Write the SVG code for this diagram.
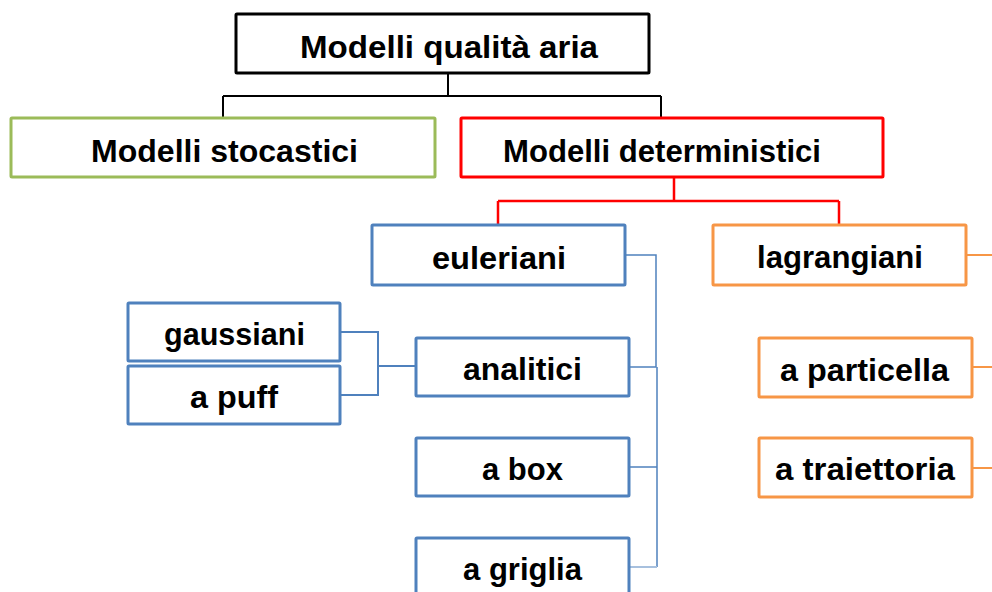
<svg xmlns="http://www.w3.org/2000/svg" width="992" height="592" viewBox="0 0 992 592">
<style>
.box{fill:#fff;stroke-width:3;}
.k{stroke:#000;}
.g{stroke:#9BBB59;}
.r{stroke:#FF0000;}
.b{stroke:#4F81BD;}
.o{stroke:#F79646;}
text{font-family:"Liberation Sans",Arial,sans-serif;font-weight:bold;font-size:32px;fill:#000;text-anchor:middle;}
.c{fill:none;}
</style>
<rect width="992" height="592" fill="#fff"/>
<g id="connectors" class="c">
<path d="M448 73V96M223 96H661M223 96V118M661 96V118" stroke="#000" stroke-width="2"/>
<path d="M674 177V201M498 201H839M498 201V225M839 201V225" stroke="#FF0000" stroke-width="2.5"/>
<path d="M625 255H656V367H629" stroke="#4F81BD" stroke-width="1.5"/>
<path d="M657 367V567M629 467H657" stroke="#4F81BD" stroke-width="1.5"/>
<path d="M629 567H657" stroke="#A7C0DE" stroke-width="2"/>
<path d="M340 332H378V395H340M378 366H416" stroke="#4F81BD" stroke-width="2"/>
<path d="M966 255H992M972 367H992M972 468H992" stroke="#F79646" stroke-width="2"/>
</g>
<g id="n-root"><rect class="box k" x="236" y="14" width="413" height="59" rx="1"/><text x="449" y="58" textLength="298" lengthAdjust="spacingAndGlyphs">Modelli qualità aria</text></g>
<g id="n-stocastici"><rect class="box g" x="11" y="118" width="424" height="59" rx="1"/><text x="224.5" y="162" textLength="267" lengthAdjust="spacingAndGlyphs">Modelli stocastici</text></g>
<g id="n-deterministici"><rect class="box r" x="461" y="118" width="422" height="59" rx="1"/><text x="662" y="162" textLength="318" lengthAdjust="spacingAndGlyphs">Modelli deterministici</text></g>
<g id="n-euleriani"><rect class="box b" x="372" y="225" width="253" height="60" rx="1"/><text x="499" y="269" textLength="134" lengthAdjust="spacingAndGlyphs">euleriani</text></g>
<g id="n-lagrangiani"><rect class="box o" x="713" y="225" width="253" height="60" rx="1"/><text x="840" y="268" textLength="166" lengthAdjust="spacingAndGlyphs">lagrangiani</text></g>
<g id="n-gaussiani"><rect class="box b" x="128" y="303" width="212" height="58" rx="1"/><text x="234.5" y="345" textLength="141" lengthAdjust="spacingAndGlyphs">gaussiani</text></g>
<g id="n-puff"><rect class="box b" x="128" y="366" width="212" height="58" rx="1"/><text x="234" y="408" textLength="88" lengthAdjust="spacingAndGlyphs">a puff</text></g>
<g id="n-analitici"><rect class="box b" x="416" y="338" width="213" height="58" rx="1"/><text x="522.5" y="380" textLength="119" lengthAdjust="spacingAndGlyphs">analitici</text></g>
<g id="n-box"><rect class="box b" x="416" y="438" width="213" height="58" rx="1"/><text x="522.5" y="480" textLength="81" lengthAdjust="spacingAndGlyphs">a box</text></g>
<g id="n-griglia"><rect class="box b" x="416" y="538" width="213" height="70" rx="1"/><text x="522.5" y="580" textLength="119" lengthAdjust="spacingAndGlyphs">a griglia</text></g>
<g id="n-particella"><rect class="box o" x="759" y="338" width="213" height="59" rx="1"/><text x="864.5" y="381" textLength="169" lengthAdjust="spacingAndGlyphs">a particella</text></g>
<g id="n-traiettoria"><rect class="box o" x="759" y="438" width="213" height="59" rx="1"/><text x="865" y="480" textLength="180" lengthAdjust="spacingAndGlyphs">a traiettoria</text></g>
</svg>
